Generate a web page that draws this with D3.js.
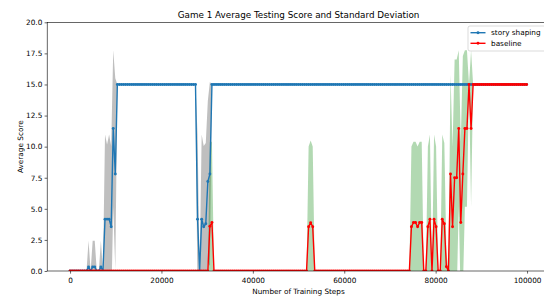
<!DOCTYPE html>
<html>
<head>
<meta charset="utf-8">
<script src="https://cdn.jsdelivr.net/npm/d3@7"></script>
<style>
body{margin:0;background:#fff}
svg{display:block;font-family:"DejaVu Sans",sans-serif}
</style>
</head>
<body>
<svg width="544" height="298"></svg>
<script>
// evaluation grid (training steps)
var steps = d3.range(0, 100000, 450);

var shapingMean = [
0,0,0,0,0,0,0,0,0,0.33,
0,0.33,0.33,0,0,0.33,0,4.17,4.17,4.17,
3.56,11.46,7.8,15,15,15,15,15,15,15,
15,15,15,15,15,15,15,15,15,15,
15,15,15,15,15,15,15,15,15,15,
15,15,15,15,15,15,15,15,15,15,
15,15,4.17,0,4.17,3.56,3.8,7.2,7.8,15,
15,15,15,15,15,15,15,15,15,15,
15,15,15,15,15,15,15,15,15,15,
15,15,15,15,15,15,15,15,15,15,
15,15,15,15,15,15,15,15,15,15,
15,15,15,15,15,15,15,15,15,15,
15,15,15,15,15,15,15,15,15,15,
15,15,15,15,15,15,15,15,15,15,
15,15,15,15,15,15,15,15,15,15,
15,15,15,15,15,15,15,15,15,15,
15,15,15,15,15,15,15,15,15,15,
15,15,15,15,15,15,15,15,15,15,
15,15,15,15,15,15,15,15,15,15,
15,15,15,15,15,15,15,15,15,15,
15,15,15,15,15,15,15,15,15,15,
15,15,15,15,15,15,15,15,15,15,
15,15,15];
var shapingStd = [
0,0,0,0,0,0,0,0,0,2.1,
0,2.1,2.1,0,0,2.1,0,6.8,6,6.8,
6.5,6.3,7.7,0,0,0,0,0,0,0,
0,0,0,0,0,0,0,0,0,0,
0,0,0,0,0,0,0,0,0,0,
0,0,0,0,0,0,0,0,0,0,
0,0,6.8,0,6.8,6.5,6.5,6.5,7.4,0,
0,0,0,0,0,0,0,0,0,0,
0,0,0,0,0,0,0,0,0,0,
0,0,0,0,0,0,0,0,0,0,
0,0,0,0,0,0,0,0,0,0,
0,0,0,0,0,0,0,0,0,0,
0,0,0,0,0,0,0,0,0,0,
0,0,0,0,0,0,0,0,0,0,
0,0,0,0,0,0,0,0,0,0,
0,0,0,0,0,0,0,0,0,0,
0,0,0,0,0,0,0,0,0,0,
0,0,0,0,0,0,0,0,0,0,
0,0,0,0,0,0,0,0,0,0,
0,0,0,0,0,0,0,0,0,0,
0,0,0,0,0,0,0,0,0,0,
0,0,0,0,0,0,0,0,0,0,
0,0,0];
var baselineMean = [
0,0,0,0,0,0,0,0,0,0,
0,0,0,0,0,0,0,0,0,0,
0,0,0,0,0,0,0,0,0,0,
0,0,0,0,0,0,0,0,0,0,
0,0,0,0,0,0,0,0,0,0,
0,0,0,0,0,0,0,0,0,0,
0,0,0,0,0,0,0,0,3.6,3.9,
0,0,0,0,0,0,0,0,0,0,
0,0,0,0,0,0,0,0,0,0,
0,0,0,0,0,0,0,0,0,0,
0,0,0,0,0,0,0,0,0,0,
0,0,0,0,0,0,3.56,3.89,3.56,0,
0,0,0,0,0,0,0,0,0,0,
0,0,0,0,0,0,0,0,0,0,
0,0,0,0,0,0,0,0,0,0,
0,0,0,0,0,0,0,0,0,0,
0,0,0,0,0,0,3.56,3.9,3.9,3.56,
3.9,3.9,0,0,3.56,4.17,0,4.17,3.56,0,
0,4.17,3.8,0.35,0,7.8,3.56,7.5,7.5,11.46,
3.9,7.8,11.46,11.46,15,11.46,15,15,15,15,
15,15,15,15,15,15,15,15,15,15,
15,15,15,15,15,15,15,15,15,15,
15,15,15];
var baselineStd = [
0,0,0,0,0,0,0,0,0,0,
0,0,0,0,0,0,0,0,0,0,
0,0,0,0,0,0,0,0,0,0,
0,0,0,0,0,0,0,0,0,0,
0,0,0,0,0,0,0,0,0,0,
0,0,0,0,0,0,0,0,0,0,
0,0,0,0,0,0,0,0,6.8,6.5,
0,0,0,0,0,0,0,0,0,0,
0,0,0,0,0,0,0,0,0,0,
0,0,0,0,0,0,0,0,0,0,
0,0,0,0,0,0,0,0,0,0,
0,0,0,0,0,0,6.45,6.6,6.45,0,
0,0,0,0,0,0,0,0,0,0,
0,0,0,0,0,0,0,0,0,0,
0,0,0,0,0,0,0,0,0,0,
0,0,0,0,0,0,0,0,0,0,
0,0,0,0,0,0,6.45,6.5,6.5,6.45,
6.5,6.5,0,0,6.45,6.8,0,6.8,6.45,0,
0,6.8,6.5,1.2,0,8,6.45,9.5,9.5,6.3,
6.5,9.5,6.3,6.3,0,6.3,0,0,0,0,
0,0,0,0,0,0,0,0,0,0,
0,0,0,0,0,0,0,0,0,0,
0,0,0];

var xTicks = [0, 20000, 40000, 60000, 80000, 100000];
var yTicks = [0, 2.5, 5, 7.5, 10, 12.5, 15, 17.5, 20];
var seriesNames = ["story shaping", "baseline"];

var svg = d3.select("svg"),
	plotL = 47.2, plotR = 549.9, plotT = 22.3, plotB = 271;

var x = d3.scaleLinear().domain([-5000, 105000]).range([plotL, plotR]);
var y = d3.scaleLinear().domain([0, 20]).range([plotB, plotT]);

var series = [
	{name: seriesNames[0], mean: shapingMean, std: shapingStd, line: "#1f77b4", band: "#808080", bandOpacity: 0.5},
	{name: seriesNames[1], mean: baselineMean, std: baselineStd, line: "#ff0000", band: "#008000", bandOpacity: 0.3}
];
series.forEach(function(s){
	s.points = steps.map(function(st, i){ return {step: st, mean: s.mean[i], std: s.std[i]}; });
});

svg.append("clipPath").attr("id", "plot").append("rect")
	.attr("x", plotL).attr("y", plotT).attr("width", plotR - plotL).attr("height", plotB - plotT);

var plot = svg.append("g").attr("clip-path", "url(#plot)");

var area = d3.area().x(function(d){ return x(d.step); })
	.y0(function(d){ return y(d.mean - d.std); })
	.y1(function(d){ return y(d.mean + d.std); });
var line = d3.line().x(function(d){ return x(d.step); }).y(function(d){ return y(d.mean); });

// bands under the lines, like matplotlib zorder
series.forEach(function(s){
	plot.append("path").datum(s.points).attr("d", area)
		.attr("fill", s.band).attr("fill-opacity", s.bandOpacity).attr("stroke", "none");
});
series.forEach(function(s){
	var g = plot.append("g");
	g.append("path").datum(s.points).attr("d", line)
		.attr("fill", "none").attr("stroke", s.line).attr("stroke-width", 1.4).attr("stroke-linejoin", "round");
	g.selectAll("circle").data(s.points).enter().append("circle")
		.attr("cx", function(d){ return x(d.step); }).attr("cy", function(d){ return y(d.mean); })
		.attr("r", 1.45).attr("fill", s.line);
});

// axes
var xAxis = svg.append("g").attr("transform", "translate(0," + plotB + ")")
	.call(d3.axisBottom(x).tickValues(xTicks).tickFormat(d3.format("d")).tickSize(2.6).tickPadding(4.3));
var yAxis = svg.append("g").attr("transform", "translate(" + plotL + ",0)")
	.call(d3.axisLeft(y).tickValues(yTicks).tickFormat(d3.format(".1f")).tickSize(2.6).tickPadding(2.3));
[xAxis, yAxis].forEach(function(a){
	a.select(".domain").remove();
	a.selectAll("line").attr("stroke", "#000").attr("stroke-width", 0.6);
	a.selectAll("text").attr("font-size", 7.3).attr("fill", "#000").attr("font-family", "DejaVu Sans");
});

svg.append("rect").attr("x", plotL).attr("y", plotT).attr("width", plotR - plotL).attr("height", plotB - plotT)
	.attr("fill", "none").attr("stroke", "#000").attr("stroke-width", 0.6);

svg.append("text").attr("x", (plotL + plotR) / 2).attr("y", 18.2).attr("text-anchor", "middle")
	.attr("font-size", 8.8).text("Game 1 Average Testing Score and Standard Deviation");
svg.append("text").attr("x", (plotL + plotR) / 2).attr("y", 293.8).attr("text-anchor", "middle")
	.attr("font-size", 7.3).text("Number of Training Steps");
svg.append("text").attr("transform", "translate(22.6," + ((plotT + plotB) / 2) + ") rotate(-90)")
	.attr("text-anchor", "middle").attr("font-size", 7.3).text("Average Score");

// legend
var legend = svg.append("g");
legend.append("rect").attr("x", 468).attr("y", 26).attr("width", 79).attr("height", 25).attr("rx", 2)
	.attr("fill", "#fff").attr("fill-opacity", 0.8).attr("stroke", "#cccccc").attr("stroke-width", 0.7);
var item = legend.selectAll("g.item").data(series).enter().append("g")
	.attr("transform", function(d, i){ return "translate(0," + (32.7 + i * 10.6) + ")"; });
item.append("line").attr("x1", 470.5).attr("x2", 485.5).attr("stroke", function(d){ return d.line; }).attr("stroke-width", 1.4);
item.append("circle").attr("cx", 478).attr("r", 1.45).attr("fill", function(d){ return d.line; });
item.append("text").attr("x", 491).attr("dy", "0.35em").attr("font-size", 7.3).text(function(d){ return d.name; });
</script>
</body>
</html>
